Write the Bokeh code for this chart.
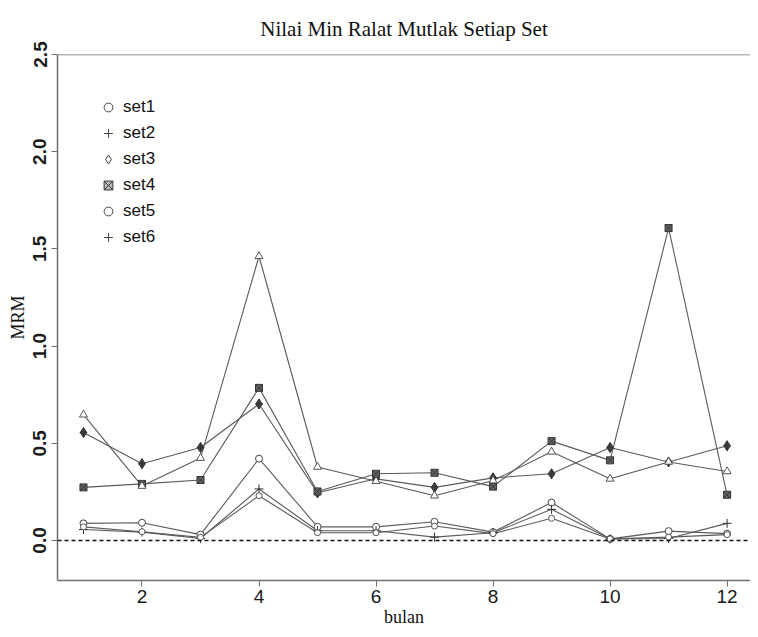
from bokeh.plotting import figure
from bokeh.models import (ColumnDataSource, Span, Legend, LegendItem, Range1d,
                          FixedTicker, NumeralTickFormatter)
from bokeh.embed import file_html
from bokeh.resources import INLINE

# ---- data ----
bulan = [1, 2, 3, 4, 5, 6, 7, 8, 9, 10, 11, 12]
set1 = [0.088, 0.091, 0.030, 0.421, 0.070, 0.070, 0.096, 0.043, 0.195, 0.008, 0.048, 0.035]
set2 = [0.056, 0.043, 0.010, 0.265, 0.050, 0.050, 0.017, 0.040, 0.160, 0.008, 0.010, 0.088]
set3 = [0.555, 0.395, 0.478, 0.702, 0.245, 0.317, 0.273, 0.322, 0.343, 0.478, 0.404, 0.487]
set4 = [0.273, 0.291, 0.311, 0.785, 0.252, 0.343, 0.348, 0.277, 0.511, 0.412, 1.607, 0.235]
set5 = [0.070, 0.045, 0.016, 0.230, 0.040, 0.040, 0.074, 0.035, 0.114, 0.008, 0.017, 0.030]
set6 = [0.647, 0.280, 0.424, 1.462, 0.378, 0.305, 0.230, 0.308, 0.456, 0.317, 0.404, 0.355]
series_names = ["set1", "set2", "set3", "set4", "set5", "set6"]
x_ticks = [2, 4, 6, 8, 10, 12]
y_ticks = [0.0, 0.5, 1.0, 1.5, 2.0, 2.5]

source = ColumnDataSource(dict(bulan=bulan, set1=set1, set2=set2, set3=set3,
                               set4=set4, set5=set5, set6=set6))

p = figure(width=750, height=629, output_backend="svg", toolbar_location=None,
           x_range=Range1d(0.556, 12.40), y_range=Range1d(-0.206, 2.5),
           min_border_left=57, min_border_right=0, min_border_top=54,
           min_border_bottom=47)

p.title.text = "Nilai Min Ralat Mutlak Setiap Set"
p.title.text_font = "Liberation Serif"
p.title.text_font_size = "21px"
p.title.text_font_style = "normal"
p.title.align = "center"
p.title.text_color = "#111111"
p.title.standoff = 27

p.grid.visible = False
p.outline_line_color = None
p.background_fill_color = "white"

# axes
for ax in (p.xaxis[0], p.yaxis[0]):
    ax.axis_line_color = "#707070"
    ax.axis_line_width = 1.5
    ax.major_tick_line_color = "#707070"
    ax.major_tick_in = 0
    ax.major_tick_out = 6
    ax.minor_tick_line_color = None
    ax.major_label_text_color = "#1a1a1a"
    ax.major_label_text_font = "Liberation Sans"
    ax.axis_label_text_font = "Liberation Serif"
    ax.axis_label_text_font_style = "normal"
    ax.axis_label_text_font_size = "18px"
    ax.axis_label_text_color = "#111111"

p.xaxis.ticker = FixedTicker(ticks=x_ticks)
p.xaxis.major_label_text_font_size = "19px"
p.xaxis.major_label_standoff = 3
p.xaxis.axis_label = "bulan"
p.xaxis.axis_label_standoff = 1

p.yaxis.ticker = FixedTicker(ticks=y_ticks)
p.yaxis.formatter = NumeralTickFormatter(format="0.0")
p.yaxis.major_label_orientation = "vertical"
p.yaxis.major_label_text_font_size = "19px"
p.yaxis.major_label_text_font_style = "bold"
p.yaxis.major_label_standoff = 5
p.yaxis.axis_label = "MRM"
p.yaxis.axis_label_standoff = 3

# top frame line and zero line
p.add_layout(Span(location=2.5, dimension="width", line_color="#707070", line_width=1.5))
p.add_layout(Span(location=0, dimension="width", line_color="#111111",
                  line_width=1.5, line_dash="4 3"))

line_color = "#5a5a5a"
styles = {
    "set1": dict(marker="circle", size=7, fill_color="white", line_color="#444444"),
    "set2": dict(marker="cross", size=9, fill_color=None, line_color="#333333"),
    "set3": dict(marker="diamond_cross", size=10, fill_color="#444444", line_color="#333333"),
    "set4": dict(marker="square_x", size=7, fill_color="#666666", line_color="#333333"),
    "set5": dict(marker="circle", size=6, fill_color="white", line_color="#555555"),
    "set6": dict(marker="triangle", size=8, fill_color="white", line_color="#555555"),
}
for name in series_names:
    p.line("bulan", name, source=source, line_color=line_color, line_width=1.1)
for name in series_names:
    st = styles[name]
    p.scatter("bulan", name, source=source, marker=st["marker"], size=st["size"],
              fill_color=st["fill_color"], line_color=st["line_color"], line_width=1)

# legend (markers as shown in the reference legend); NaN point => nothing drawn in plot
legend_markers = {
    "set1": dict(marker="circle", fill_color=None, line_color="#444444"),
    "set2": dict(marker="cross", fill_color=None, line_color="#444444"),
    "set3": dict(marker="diamond", fill_color=None, line_color="#333333"),
    "set4": dict(marker="square_x", fill_color="#bbbbbb", line_color="#333333"),
    "set5": dict(marker="circle", fill_color=None, line_color="#444444"),
    "set6": dict(marker="cross", fill_color=None, line_color="#444444"),
}
empty = ColumnDataSource(dict(x=[float("nan")], y=[float("nan")]))
items = []
for name in series_names:
    lm = legend_markers[name]
    r = p.scatter("x", "y", source=empty, marker=lm["marker"], size=8,
                  fill_color=lm["fill_color"], line_color=lm["line_color"])
    items.append(LegendItem(label=name, renderers=[r], index=0))

legend = Legend(items=items, location="top_left")
legend.border_line_color = None
legend.background_fill_alpha = 0
legend.label_text_font = "Liberation Sans"
legend.label_text_font_size = "17px"
legend.label_text_color = "#111111"
legend.glyph_width = 22
legend.glyph_height = 26
legend.label_height = 26
legend.spacing = 0
legend.padding = 8
legend.margin = 40
legend.label_standoff = 4
p.add_layout(legend)

open("out.html", "w").write(file_html(p, INLINE))
